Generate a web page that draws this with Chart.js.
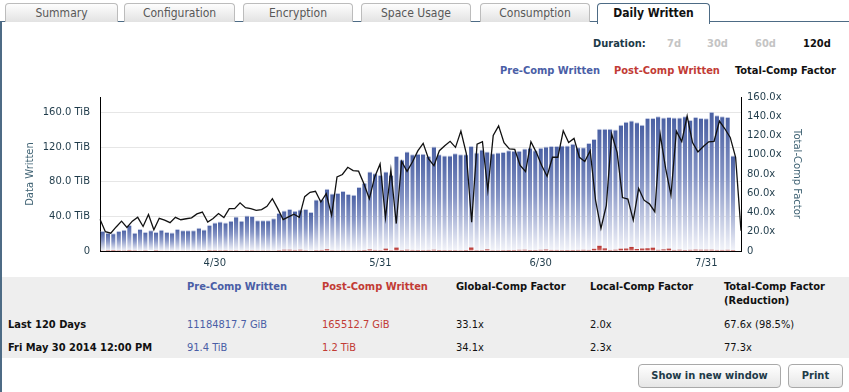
<!DOCTYPE html>
<html>
<head>
<meta charset="utf-8">
<script src="https://cdn.jsdelivr.net/npm/chart.js@4.4.1/dist/chart.umd.min.js"></script>
<style>
  body { margin: 0; width: 849px; height: 392px; overflow: hidden; background: #fff; position: relative;
         font-family: "DejaVu Sans Condensed", "DejaVu Sans", sans-serif; }
  .abs { position: absolute; white-space: nowrap; line-height: 14px; }
  .tab { position: absolute; top: 3px; height: 19px; border: 1px solid #bcbcbc; border-bottom: none;
         border-radius: 4px 4px 0 0; background: linear-gradient(#fdfdfd, #e2e2e2); color: #585858;
         font-size: 12px; text-align: center; line-height: 19px; box-sizing: border-box; }
  .tab.on { background: #fff; border-color: #4d6b85; color: #111; font-weight: bold; height: 21px; z-index: 3; }
  #topline { position: absolute; left: 0; top: 21px; width: 849px; height: 1px; background: #4d6b85; }
  #leftline { position: absolute; left: 0; top: 21px; width: 2px; height: 371px; background: #4d6b85; }
  #band { position: absolute; left: 2px; top: 277px; width: 847px; height: 81px; background: #eeeeee; }
  .b { font-weight: bold; }
  .blue { color: #4a5ea6; }
  .red { color: #c23b35; }
  .btn { position: absolute; top: 364px; height: 24px; border: 1px solid #a9a9a9; border-radius: 4px;
         background: linear-gradient(#ffffff, #e6e6e6); color: #1d3a48; font-weight: bold; font-size: 11px;
         text-align: center; line-height: 22px; box-sizing: border-box; }
  #chartBox { position: absolute; left: 0; top: 81px; width: 849px; height: 197px; }
</style>
</head>
<body>
<div id="topline"></div>
<div id="leftline"></div>
<div class="tab" style="left:5px;width:113px">Summary</div>
<div class="tab" style="left:124px;width:111px">Configuration</div>
<div class="tab" style="left:243px;width:110px">Encryption</div>
<div class="tab" style="left:361px;width:110px">Space Usage</div>
<div class="tab" style="left:480px;width:110px">Consumption</div>
<div class="tab on" style="left:597px;width:113px">Daily Written</div>

<div class="abs b" style="left:593px;top:37px;font-size:11px;color:#1d3a48">Duration:</div>
<div class="abs b" style="left:667px;top:37px;font-size:11px;color:#c4c4c4">7d</div>
<div class="abs b" style="left:707px;top:37px;font-size:11px;color:#c4c4c4">30d</div>
<div class="abs b" style="left:755px;top:37px;font-size:11px;color:#c4c4c4">60d</div>
<div class="abs b" style="left:803px;top:37px;font-size:11px;color:#111">120d</div>

<div class="abs b blue" style="left:500px;top:64px;font-size:11px">Pre-Comp Written</div>
<div class="abs b red" style="left:614px;top:64px;font-size:11px">Post-Comp Written</div>
<div class="abs b" style="left:735px;top:64px;font-size:11px;color:#111">Total-Comp Factor</div>

<div id="chartBox"><canvas id="dailyChart" width="849" height="197"></canvas></div>

<div id="band"></div>
<div class="abs b blue" style="left:187px;top:280px;font-size:11px">Pre-Comp Written</div>
<div class="abs b red" style="left:322px;top:280px;font-size:11px">Post-Comp Written</div>
<div class="abs b" style="left:456px;top:280px;font-size:11px;color:#111">Global-Comp Factor</div>
<div class="abs b" style="left:590px;top:280px;font-size:11px;color:#111">Local-Comp Factor</div>
<div class="abs b" style="left:724px;top:280px;font-size:11px;color:#111">Total-Comp Factor</div>
<div class="abs b" style="left:724px;top:294px;font-size:11px;color:#111">(Reduction)</div>

<div class="abs b" style="left:8px;top:318px;font-size:11px;color:#111">Last 120 Days</div>
<div class="abs blue" style="left:187px;top:318px;font-size:11px">11184817.7 GiB</div>
<div class="abs red" style="left:322px;top:318px;font-size:11px">165512.7 GiB</div>
<div class="abs" style="left:456px;top:318px;font-size:11px;color:#111">33.1x</div>
<div class="abs" style="left:590px;top:318px;font-size:11px;color:#111">2.0x</div>
<div class="abs" style="left:724px;top:318px;font-size:11px;color:#111">67.6x (98.5%)</div>

<div class="abs b" style="left:8px;top:341px;font-size:11px;color:#111">Fri May 30 2014 12:00 PM</div>
<div class="abs blue" style="left:187px;top:341px;font-size:11px">91.4 TiB</div>
<div class="abs red" style="left:322px;top:341px;font-size:11px">1.2 TiB</div>
<div class="abs" style="left:456px;top:341px;font-size:11px;color:#111">34.1x</div>
<div class="abs" style="left:590px;top:341px;font-size:11px;color:#111">2.3x</div>
<div class="abs" style="left:724px;top:341px;font-size:11px;color:#111">77.3x</div>

<div class="btn" style="left:638px;width:143px">Show in new window</div>
<div class="btn" style="left:788px;width:55px">Print</div>

<script>
// 120 days, 9 Apr 2014 .. 6 Aug 2014
const firstDay = new Date(2014, 3, 9);
const dayCount = 120;
const dayLabels = [];
for (let i = 0; i < dayCount; i++) {
  const d = new Date(firstDay.getFullYear(), firstDay.getMonth(), firstDay.getDate() + i);
  dayLabels.push((d.getMonth() + 1) + '/' + d.getDate());
}
const tickLabels = ['4/30', '5/31', '6/30', '7/31'];

// Pre-Comp Written, TiB per day
const preComp = [
  23, 21, 20.5, 23, 24.5, 30, 21, 25.5, 22, 24, 22, 24.5, 22, 21.5, 25.5, 24, 24, 24, 27, 25,
  30, 33, 34, 33, 35, 40, 35, 41, 40.5, 35.5, 35.5, 35.5, 38, 44, 47, 48.5, 46.5, 48, 48.5, 45,
  59.5, 60, 72, 66.5, 67, 69.5, 66, 65, 74, 79, 92, 90, 88, 92, 88, 110, 106, 115, 112, 112.5,
  112.5, 110, 121, 112, 110.5, 110.5, 113, 112, 112, 121.5, 114, 117.5, 115, 113, 114, 114.5, 116.5, 116, 116, 118.5,
  119.5, 116.5, 119.5, 121, 121.5, 121.5, 122, 122, 124, 120, 120, 125, 129.5, 141.5, 141.5, 141.5, 140.5, 146, 149.5, 151,
  149, 146, 154, 154, 156, 154.5, 155, 154.5, 154.5, 156, 151.5, 155, 154, 153.5, 161, 157, 156, 155, 110.5, 0
];

// Post-Comp Written, TiB per day
const postComp = [
  0.7, 1.0, 1.1, 0.9, 0.8, 1.2, 0.9, 0.7, 0.9, 0.6, 1.0, 0.7, 0.7, 0.7, 0.7, 0.7, 0.7, 0.7, 0.7, 0.6,
  1.0, 1.0, 0.9, 1.0, 0.8, 0.9, 0.7, 0.9, 0.9, 0.8, 0.8, 0.8, 0.7, 1.0, 1.4, 1.4, 1.2, 1.4, 0.9, 0.7,
  1.0, 1.2, 1.9, 0.9, 0.8, 0.9, 0.8, 0.8, 0.9, 1.1, 1.7, 1.2, 1.0, 2.7, 1.0, 3.9, 1.1, 1.4, 1.2, 1.1,
  1.0, 1.2, 1.4, 1.1, 1.0, 1.0, 1.0, 0.9, 1.1, 4.0, 1.0, 1.0, 1.8, 0.9, 0.9, 1.0, 1.1, 1.1, 1.3, 1.4,
  1.1, 1.1, 1.3, 1.6, 1.2, 1.2, 1.0, 1.1, 1.1, 1.2, 1.3, 1.2, 2.5, 6.0, 3.0, 1.2, 1.4, 2.6, 2.8, 4.7,
  2.3, 2.8, 3.1, 3.8, 1.3, 1.8, 2.7, 1.2, 1.4, 1.1, 1.3, 1.5, 1.4, 1.4, 1.4, 1.2, 1.2, 1.3, 1.1, 0
];

// Total-Comp Factor (x)
const totalFactor = [
  33, 20, 18.5, 25, 31, 24.5, 31, 35, 25.5, 38, 22, 34, 32, 29.5, 35, 32.5, 33.5, 34.5, 38.5, 40.5,
  30, 33.7, 38.9, 34.7, 44, 44, 50, 45, 44, 42.3, 43, 46.4, 54.3, 44, 32.7, 35.4, 38.2, 35, 56.5, 61,
  62, 50.9, 59.5, 37, 77, 79.5, 87, 83.6, 82.9, 69.8, 54.3, 77, 90.5, 34.5, 84.3, 28.5, 93, 82.7, 92.5, 104,
  111.8, 95.6, 88.7, 104.2, 109.4, 114, 107.7, 124.5, 101.5, 30, 111, 113.5, 63, 120, 130, 112.5, 106, 105.5, 88.8, 82.6,
  113.5, 102.5, 88.8, 77.7, 97.4, 97.4, 124.9, 112.8, 117, 97.4, 92.9, 104.2, 52.6, 23.4, 47.5, 121.4, 102.5, 55.5, 54, 32,
  65, 52.8, 49, 40.8, 121.2, 86, 58, 124.5, 113.7, 140.2, 112.6, 103, 108.5, 113.5, 114, 135, 127, 118, 97.2, 21
];

const tickFont = { family: 'DejaVu Sans', size: 10 };
const tickColor = '#1f3b4a';
const titleColor = '#3f6273';

// vertical gradient per bar, dark at the top, fading to white at the base
function barFill(ctx, top, mid, bottom) {
  const chart = ctx.chart;
  const y = chart.scales.y;
  if (!y || ctx.raw == null) return top;
  const py = y.getPixelForValue(ctx.raw);
  const pb = y.getPixelForValue(0);
  if (!isFinite(py) || pb - py < 1) return top;
  const g = chart.ctx.createLinearGradient(0, py, 0, pb);
  g.addColorStop(0, top);
  g.addColorStop(0.45, mid);
  g.addColorStop(1, bottom);
  return g;
}

new Chart(document.getElementById('dailyChart'), {
  data: {
    labels: dayLabels,
    datasets: [
      {
        type: 'line',
        label: 'Total-Comp Factor',
        data: totalFactor,
        xAxisID: 'x2',
        yAxisID: 'y1',
        borderColor: '#111',
        borderWidth: 1.3,
        pointRadius: 0,
        tension: 0,
        order: 0
      },
      {
        type: 'bar',
        label: 'Post-Comp Written',
        data: postComp,
        xAxisID: 'x',
        yAxisID: 'y',
        grouped: false,
        backgroundColor: ctx => barFill(ctx, '#b5302c', '#c4504c', '#d9736f'),
        categoryPercentage: 1,
        barPercentage: 0.82,
        order: 1
      },
      {
        type: 'bar',
        label: 'Pre-Comp Written',
        data: preComp,
        xAxisID: 'x',
        yAxisID: 'y',
        grouped: false,
        backgroundColor: ctx => barFill(ctx, '#4a60a3', '#8594c5', '#f4f5fa'),
        borderColor: '#c3cbe4',
        borderWidth: { top: 1, left: 0, right: 0, bottom: 0 },
        borderSkipped: 'bottom',
        categoryPercentage: 1,
        barPercentage: 0.82,
        order: 2
      }
    ]
  },
  options: {
    responsive: false,
    animation: false,
    devicePixelRatio: 1,
    layout: { padding: { top: 3, left: 0, right: 0, bottom: 0 } },
    plugins: { legend: { display: false }, tooltip: { enabled: false } },
    scales: {
      x: {
        type: 'category',
        offset: true,
        grid: { display: false, drawTicks: false },
        border: { display: true, color: '#000', width: 1 },
        ticks: {
          autoSkip: false, maxRotation: 0, minRotation: 0, padding: 6,
          font: tickFont, color: tickColor,
          callback: (v, i) => tickLabels.includes(dayLabels[i]) ? dayLabels[i] : ''
        },
        afterFit: s => { s.height = 27; }
      },
      x2: {
        type: 'category',
        offset: false,
        display: false
      },
      y: {
        position: 'left',
        min: 0,
        max: 178.2,
        grid: { color: '#e6e6e6', drawTicks: false },
        border: { display: true, color: '#000', width: 1 },
        ticks: {
          stepSize: 40, includeBounds: false, padding: 10,
          font: tickFont, color: tickColor,
          callback: v => v === 0 ? '0' : v.toFixed(1) + ' TiB'
        },
        title: { display: true, text: 'Data Written', font: tickFont, color: titleColor, padding: { top: 24, bottom: 0 } },
        afterFit: s => { s.width = 100; }
      },
      y1: {
        position: 'right',
        min: 0,
        max: 160,
        grid: { display: false, drawTicks: false },
        border: { display: true, color: '#000', width: 1 },
        ticks: {
          stepSize: 20, padding: 6,
          font: tickFont, color: tickColor,
          callback: v => v === 0 ? '0' : v.toFixed(1) + 'x'
        },
        title: { display: true, text: 'Total-Comp Factor', font: tickFont, color: titleColor, padding: { top: 46, bottom: 0 } },
        afterFit: s => { s.width = 108; }
      }
    }
  }
});
</script>
</body>
</html>
